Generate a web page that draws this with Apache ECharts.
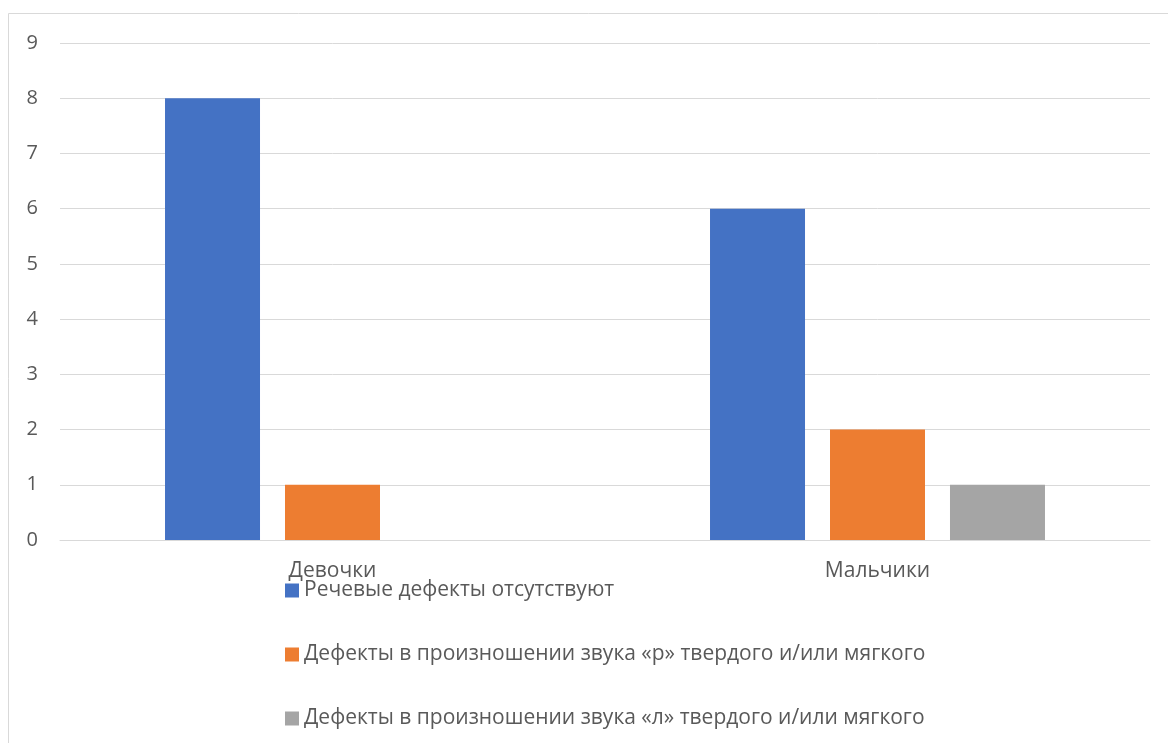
<!DOCTYPE html>
<html>
<head>
<meta charset="utf-8">
<script src="https://cdn.jsdelivr.net/npm/echarts@6/dist/echarts.min.js"></script>
<style>
html,body{margin:0;padding:0;background:#fff;}
#chart{width:1168px;height:743px;}
</style>
</head>
<body>
<div id="chart"></div>
<script>
const categories = ['Девочки', 'Мальчики'];
const seriesNames = [
  'Речевые дефекты отсутствуют',
  'Дефекты в произношении звука «р» твердого и/или мягкого',
  'Дефекты в произношении звука «л» твердого и/или мягкого'
];
const noDefects = [8, 6];
const rDefects = [1, 2];
const lDefects = [0, 1];
const colors = ['#4472C4', '#ED7D31', '#A5A5A5'];

const chart = echarts.init(document.getElementById('chart'));
const font = 'Open Sans, Noto Sans, sans-serif';
chart.setOption({
  animation: false,
  backgroundColor: '#fff',
  graphic: [{
    type: 'rect',
    shape: {x: 8.5, y: 13.5, width: 1300, height: 900},
    style: {fill: 'none', stroke: '#d9d9d9', lineWidth: 1},
    silent: true,
    z: -1
  }],
  grid: {left: 60, right: 18, top: 43, bottom: 203},
  legend: {
    orient: 'vertical',
    left: 285,
    top: 580,
    padding: 0,
    itemWidth: 14,
    itemHeight: 14,
    itemGap: 43,
    icon: 'rect',
    textStyle: {color: '#595959', fontSize: 21, fontFamily: font},
    data: seriesNames
  },
  xAxis: {
    type: 'category',
    data: categories,
    axisLine: {lineStyle: {color: '#d9d9d9', width: 1}},
    axisTick: {show: false},
    axisLabel: {color: '#595959', fontSize: 21, fontFamily: font, margin: 21}
  },
  yAxis: {
    type: 'value',
    min: 0,
    max: 9,
    interval: 1,
    axisLine: {show: false},
    axisTick: {show: false},
    splitLine: {lineStyle: {color: '#d9d9d9', width: 1}},
    axisLabel: {color: '#595959', fontSize: 20, fontFamily: font, margin: 22}
  },
  series: [
    {name: seriesNames[0], type: 'bar', data: noDefects, barWidth: 95, barGap: '26.3%', itemStyle: {color: colors[0]}},
    {name: seriesNames[1], type: 'bar', data: rDefects, barWidth: 95, barGap: '26.3%', itemStyle: {color: colors[1]}},
    {name: seriesNames[2], type: 'bar', data: lDefects, barWidth: 95, barGap: '26.3%', itemStyle: {color: colors[2]}}
  ]
});
</script>
</body>
</html>
